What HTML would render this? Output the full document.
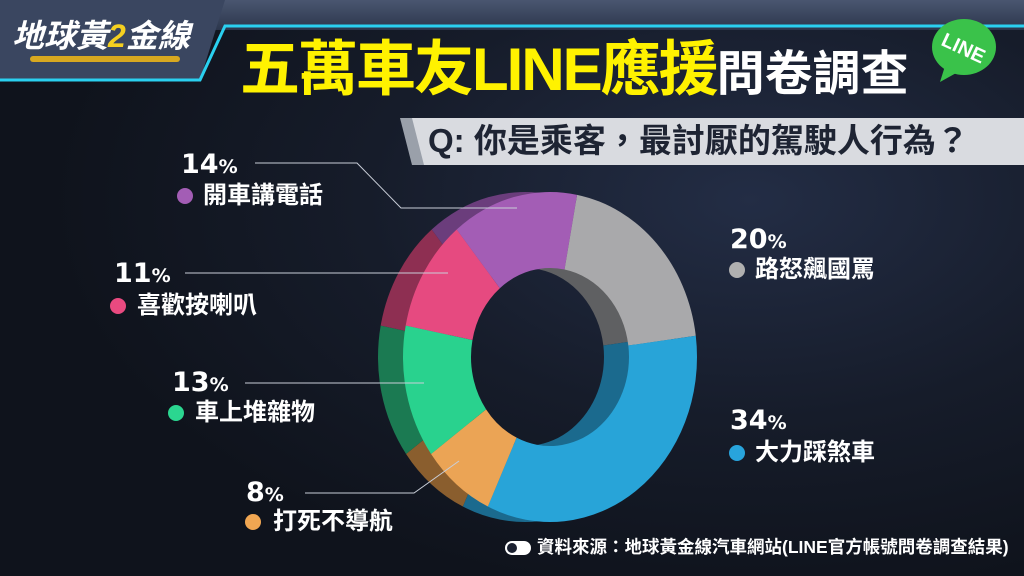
<!DOCTYPE html>
<html><head><meta charset="utf-8">
<style>
*{margin:0;padding:0}
body{width:1024px;height:576px;overflow:hidden;position:relative;font-family:"Liberation Sans","Noto Sans CJK TC",sans-serif;
background:radial-gradient(ellipse 700px 400px at 750px 200px,#232d45 0%,#161c2a 55%,#0f131c 100%);}
.t{position:absolute;color:#fff;font-weight:bold;white-space:nowrap;line-height:1}
.pct{font-size:27px;font-family:"DejaVu Sans","Liberation Sans",sans-serif;}
.pct small{font-size:19px}
.lab{font-size:24px}
.dot{position:absolute;width:16px;height:16px;border-radius:50%}
</style></head><body>
<div style="position:absolute;left:0;top:0;width:1024px;height:30px;background:linear-gradient(#4a5670,#2c364c)"></div>
<svg width="1024" height="576" style="position:absolute;left:0;top:0">
<polygon points="0,0 225,0 200,80 0,80" fill="#3a4660"/>
<polyline points="0,80 200,80 225,26 1024,26" fill="none" stroke="#2ad0f0" stroke-width="3"/>
<polygon points="405,118 1024,118 1024,165 418,165" fill="#d9dbe0"/>
<polygon points="400,118 412,118 424,165 412,165" fill="#9aa0aa"/>
<g id="pie"></g>
<g stroke="#c9ced8" stroke-width="1" fill="none">
<polyline points="255,163 357,163 401,208 517,208"/>
<polyline points="185,273 448,273"/>
<polyline points="245,383 424,383"/>
<polyline points="305,493 414,493 459,461"/>
</g>
<ellipse cx="964" cy="47" rx="32" ry="28" fill="#3ac24a"/>
<polygon points="945,66 940,82 958,72" fill="#3ac24a"/>
<text x="964" y="55" transform="rotate(25 964 47)" text-anchor="middle" font-family="Liberation Sans" font-weight="bold" font-size="20" fill="#fff">LINE</text>
<rect x="505" y="541" width="26" height="14" rx="7" fill="#fff"/><circle cx="512" cy="548" r="5" fill="#1a2030"/>
</svg>
<div class="t" style="left:12px;top:20px;font-size:32px;font-style:italic;color:#fff">地球黃<span style="color:#f5d020">2</span>金線</div>
<div style="position:absolute;left:30px;top:56px;width:150px;height:6px;background:#d8a820;border-radius:3px"></div>
<div class="t" style="left:240px;top:40px;font-size:60px;color:#fff200;letter-spacing:-2px">五萬車友LINE應援<span style="color:#fff;font-size:48px;letter-spacing:0">問卷調查</span></div>
<div class="t" style="left:428px;top:124px;font-size:33px;color:#1e2433">Q: 你是乘客，最討厭的駕駛人行為？</div>

<div class="t pct" style="left:181px;top:151px">14<small>%</small></div>
<div class="dot" style="left:177px;top:188px;background:#a35db5"></div><div class="t lab" style="left:203px;top:184px">開車講電話</div>
<div class="t pct" style="left:114px;top:260px">11<small>%</small></div>
<div class="dot" style="left:110px;top:298px;background:#e94a80"></div><div class="t lab" style="left:137px;top:294px">喜歡按喇叭</div>
<div class="t pct" style="left:172px;top:369px">13<small>%</small></div>
<div class="dot" style="left:168px;top:405px;background:#2bd690"></div><div class="t lab" style="left:195px;top:401px">車上堆雜物</div>
<div class="t pct" style="left:246px;top:479px">8<small>%</small></div>
<div class="dot" style="left:245px;top:514px;background:#f0a652"></div><div class="t lab" style="left:273px;top:510px">打死不導航</div>
<div class="t pct" style="left:730px;top:226px">20<small>%</small></div>
<div class="dot" style="left:729px;top:262px;background:#b0b0b0"></div><div class="t lab" style="left:755px;top:258px">路怒飆國罵</div>
<div class="t pct" style="left:730px;top:407px">34<small>%</small></div>
<div class="dot" style="left:729px;top:445px;background:#28a4dc"></div><div class="t lab" style="left:755px;top:441px">大力踩煞車</div>
<div class="t" style="left:537px;top:539px;font-size:17.5px">資料來源：地球黃金線汽車網站(LINE官方帳號問卷調查結果)</div>
<script>
const S=[[10.6,82.6,'#a9a9ab','#5f6062'],[82.6,205,'#28a4d8','#1b6a8e'],[205,234,'#eba455','#8a5e2e'],[234,281,'#29d28e','#1b7a52'],[281,320.6,'#e64a80','#8e2f52'],[320.6,370.6,'#a35db5','#6b3d7c']];
function arc(cx,cy,R,Ry,r,ry,a,b){const p=(t,X,Y)=>[cx+X*Math.sin(t*Math.PI/180),cy-Y*Math.cos(t*Math.PI/180)];
const l=(b-a)>180?1:0;const A=p(a,R,Ry),B=p(b,R,Ry),C=p(b,r,ry),D=p(a,r,ry);
return `M${A}A${R},${Ry} 0 ${l} 1 ${B}L${C}A${r},${ry} 0 ${l} 0 ${D}Z`;}
let h='';
S.forEach(s=>h+=`<path d="${arc(525,357,147,165,79,89,s[0],s[1])}" fill="${s[3]}"/>`);
S.forEach(s=>h+=`<path d="${arc(550,357,147,165,79,89,s[0],s[1])}" fill="${s[2]}"/>`);
document.getElementById('pie').innerHTML=h;
</script>
</body></html>
